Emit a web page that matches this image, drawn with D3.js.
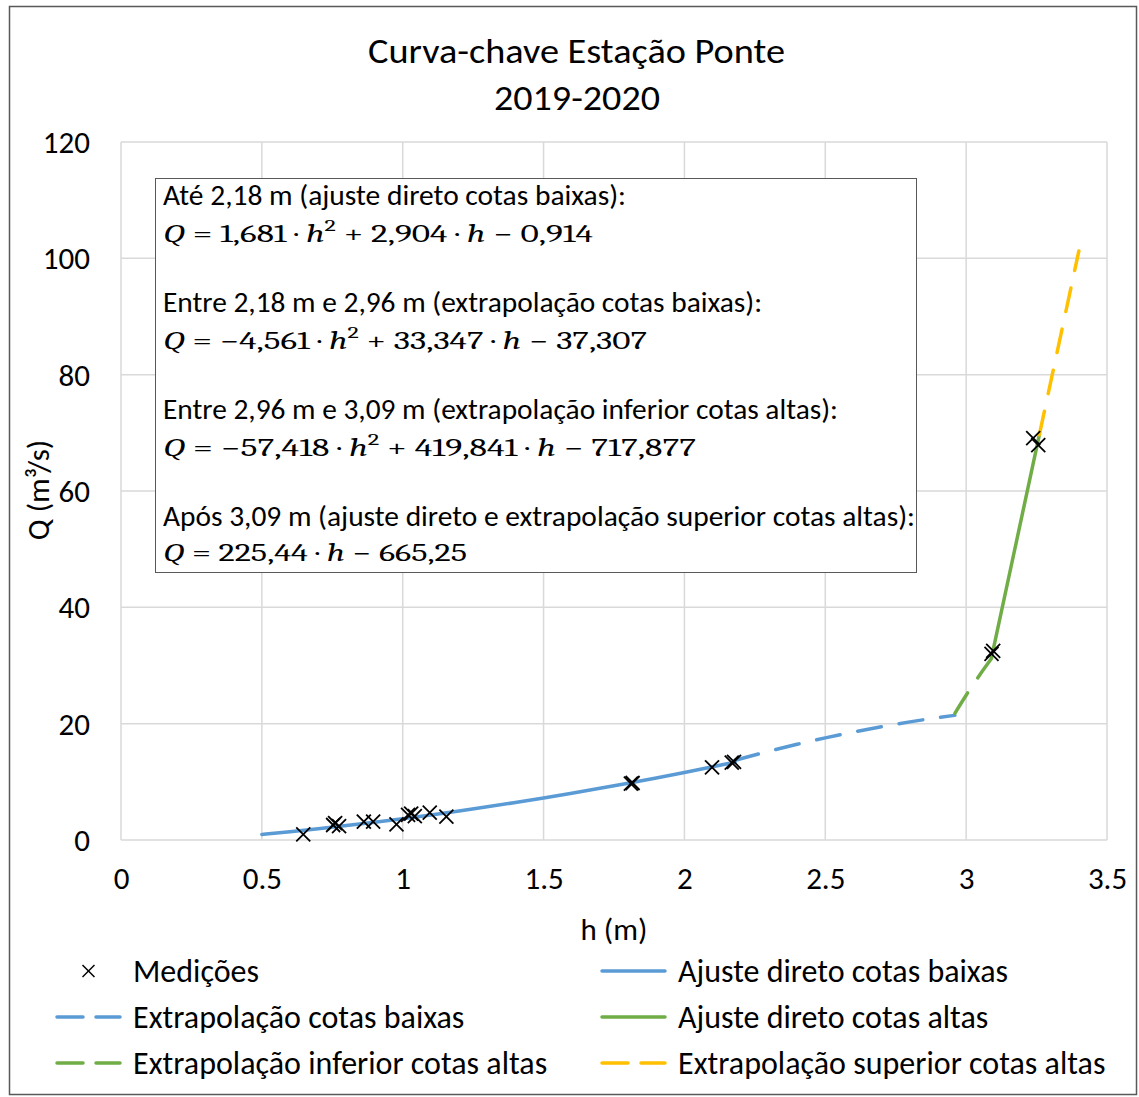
<!DOCTYPE html>
<html>
<head>
<meta charset="utf-8">
<script src="https://cdn.jsdelivr.net/npm/d3@7/dist/d3.min.js"></script>
<style>
  html, body { margin: 0; padding: 0; background: #fff; }
  svg { display: block; }
</style>
</head>
<body>
<svg id="chart" width="1139" height="1097"></svg>
<script>
// Gauging measurements: stage h (m) and discharge Q (m³/s)
const measH = [0.647, 0.753, 0.760, 0.774, 0.862, 0.895, 0.978, 1.019, 1.030, 1.043, 1.096, 1.155,
               1.810, 1.816, 2.098, 2.168, 2.176, 3.090, 3.096, 3.238, 3.256];
const measQ = [0.98, 2.58, 2.9, 2.40, 3.15, 3.15, 2.70, 4.30, 4.55, 4.10, 4.70, 4.00,
               9.70, 9.80, 12.50, 13.30, 13.45, 32.0, 32.5, 69.1, 67.9];

// Rating curve segments (tabulated from the fitted equations shown in the box)
const lowFitH = [0.5, 0.6, 0.7, 0.8, 0.9, 1.0, 1.1, 1.2, 1.3, 1.4, 1.5, 1.6, 1.7, 1.8, 1.9, 2.0, 2.1, 2.18];
const lowFitQ = [0.958, 1.434, 1.943, 2.485, 3.061, 3.671, 4.314, 4.991, 5.702, 6.446, 7.224, 8.036, 8.881, 9.760, 10.672, 11.618, 12.598, 13.405];

const lowExtH = [2.18, 2.3, 2.4, 2.5, 2.6, 2.7, 2.8, 2.9, 2.96];
const lowExtQ = [13.714, 15.263, 16.454, 17.554, 18.563, 19.480, 20.306, 21.041, 21.437];

const highInfH = [2.96, 3.0, 3.05, 3.09];
const highInfQ = [21.779, 24.884, 28.507, 31.199];

const highFitH = [3.09, 3.26];
const highFitQ = [31.36, 69.68];

const highSupH = [3.26, 3.40];
const highSupQ = [69.68, 101.25];

// Axis ticks
const xTicks = [0, 0.5, 1, 1.5, 2, 2.5, 3, 3.5];
const xTickLabels = ["0", "0.5", "1", "1.5", "2", "2.5", "3", "3.5"];
const yTicks = [0, 20, 40, 60, 80, 100, 120];
const yTickLabels = ["0", "20", "40", "60", "80", "100", "120"];

// Legend entries
const legendLabels = ["Medições", "Ajuste direto cotas baixas", "Extrapolação cotas baixas",
                      "Ajuste direto cotas altas", "Extrapolação inferior cotas altas",
                      "Extrapolação superior cotas altas"];

const FONT = "Carlito, Calibri, Lato, sans-serif";
const MATH = "'Cambria Math', Cambria, 'DejaVu Serif', serif";
const BLUE = "#5B9BD5", GREEN = "#70AD47", GOLD = "#FFC000", GRID = "#D9D9D9";
const DASH = "24,18";

const svg = d3.select("#chart");

// outer chart frame
svg.append("rect").attr("x", 9.5).attr("y", 6.5).attr("width", 1127).attr("height", 1088)
  .attr("fill", "#fff").attr("stroke", "#595959").attr("stroke-width", 1.5);

const x = d3.scaleLinear().domain([0, 3.5]).range([121, 1107]);
const y = d3.scaleLinear().domain([0, 120]).range([840, 142]);

// title
const title = svg.append("g").attr("font-family", FONT).attr("font-size", 34).attr("fill", "#000");
title.append("text").attr("x", 368).attr("y", 63).attr("textLength", 417)
  .attr("lengthAdjust", "spacingAndGlyphs").text("Curva-chave Estação Ponte");
title.append("text").attr("x", 494).attr("y", 110).attr("textLength", 166)
  .attr("lengthAdjust", "spacingAndGlyphs").text("2019-2020");

// gridlines
const grid = svg.append("g");
grid.selectAll("line.h").data(yTicks).join("line")
  .attr("x1", x(0)).attr("x2", x(3.5)).attr("y1", d => y(d)).attr("y2", d => y(d))
  .attr("stroke", GRID).attr("stroke-width", 1.5);
grid.selectAll("line.v").data(xTicks).join("line")
  .attr("y1", y(0)).attr("y2", y(120)).attr("x1", d => x(d)).attr("x2", d => x(d))
  .attr("stroke", GRID).attr("stroke-width", 1.5);

// axes (labels only)
const xAxis = svg.append("g").attr("transform", `translate(0,${y(0)})`)
  .call(d3.axisBottom(x).tickValues(xTicks).tickFormat((d, i) => xTickLabels[i]).tickSize(0).tickPadding(27));
const yAxis = svg.append("g").attr("transform", `translate(${x(0)},0)`)
  .call(d3.axisLeft(y).tickValues(yTicks).tickFormat((d, i) => yTickLabels[i]).tickSize(0).tickPadding(31));
[xAxis, yAxis].forEach(a => {
  a.select(".domain").remove();
  a.selectAll("text").attr("font-family", FONT).attr("font-size", 31).attr("fill", "#000");
});
yAxis.selectAll("text").attr("dy", "0.34em");
xAxis.selectAll("text").attr("dy", "0.72em");

// axis titles
svg.append("text").attr("x", 614).attr("y", 940).attr("text-anchor", "middle")
  .attr("font-family", FONT).attr("font-size", 31).text("h (m)");
svg.append("text").attr("transform", "translate(49,490) rotate(-90)").attr("text-anchor", "middle")
  .attr("font-family", FONT).attr("font-size", 31).text("Q (m³/s)");

// curves
const line = d3.line().x(d => x(d[0])).y(d => y(d[1])).curve(d3.curveMonotoneX);
const zip = (a, b) => a.map((v, i) => [v, b[i]]);
const segs = [
  { pts: zip(lowFitH, lowFitQ), color: BLUE, dash: null },
  { pts: zip(lowExtH, lowExtQ), color: BLUE, dash: DASH },
  { pts: zip(highInfH, highInfQ), color: GREEN, dash: DASH },
  { pts: zip(highFitH, highFitQ), color: GREEN, dash: null },
  { pts: zip(highSupH, highSupQ), color: GOLD, dash: DASH }
];
svg.append("g").selectAll("path").data(segs).join("path")
  .attr("d", d => line(d.pts)).attr("fill", "none")
  .attr("stroke", d => d.color).attr("stroke-width", 3.5).attr("stroke-linecap", "round")
  .attr("stroke-dasharray", d => d.dash);

// measurement markers
const cross = (g, s) => {
  g.append("line").attr("x1", -s).attr("y1", -s).attr("x2", s).attr("y2", s);
  g.append("line").attr("x1", -s).attr("y1", s).attr("x2", s).attr("y2", -s);
};
svg.append("g").selectAll("g").data(zip(measH, measQ)).join("g")
  .attr("transform", d => `translate(${x(d[0])},${y(d[1])})`)
  .attr("stroke", "#000").attr("stroke-width", 1.8)
  .each(function () { cross(d3.select(this), 7); });

// equations box
svg.append("rect").attr("x", 155.5).attr("y", 178.5).attr("width", 761).attr("height", 394)
  .attr("fill", "#fff").attr("stroke", "#595959").attr("stroke-width", 1);

const boxText = [
  { t: "Até 2,18 m (ajuste direto cotas baixas):", y: 205, w: 463 },
  { t: "Entre 2,18 m e 2,96 m (extrapolação cotas baixas):", y: 312, w: 599 },
  { t: "Entre 2,96 m e 3,09 m (extrapolação inferior cotas altas):", y: 419, w: 675 },
  { t: "Após 3,09 m (ajuste direto e extrapolação superior cotas altas):", y: 526, w: 752 }
];
svg.append("g").selectAll("text").data(boxText).join("text")
  .attr("x", 163).attr("y", d => d.y).attr("font-family", FONT).attr("font-size", 28)
  .attr("textLength", d => d.w).attr("lengthAdjust", "spacingAndGlyphs").text(d => d.t);

// equation rows: [text, style] pieces — 1 italic, 2 superscript
const eqs = [
  { y: 242, w: 430, parts: [["Q", 1], [" = 1,681 · ", 0], ["h", 1], ["2", 2], [" + 2,904 · ", 0], ["h", 1], [" − 0,914", 0]] },
  { y: 349, w: 484, parts: [["Q", 1], [" = −4,561 · ", 0], ["h", 1], ["2", 2], [" + 33,347 · ", 0], ["h", 1], [" − 37,307", 0]] },
  { y: 456, w: 533, parts: [["Q", 1], [" = −57,418 · ", 0], ["h", 1], ["2", 2], [" + 419,841 · ", 0], ["h", 1], [" − 717,877", 0]] },
  { y: 561, w: 304, parts: [["Q", 1], [" = 225,44 · ", 0], ["h", 1], [" − 665,25", 0]] }
];
eqs.forEach(eq => {
  const t = svg.append("text").attr("x", 163).attr("y", eq.y).attr("font-family", MATH)
    .attr("font-size", 25).attr("textLength", eq.w).attr("lengthAdjust", "spacingAndGlyphs")
    .style("white-space", "pre");
  eq.parts.forEach(p => {
    const s = t.append("tspan").attr("font-style", p[1] === 1 ? "italic" : "normal").text(p[0]);
    if (p[1] === 2) s.attr("font-size", 17).attr("dy", -11);
    else if (p[1] === 0 && t.selectAll("tspan").size() > 1 && t.selectAll("tspan").nodes().slice(-2, -1)[0].textContent === "2")
      s.attr("dy", 11);
  });
});

// legend
const legendPos = [
  { lx: 55, tx: 133, y: 971 }, { lx: 600, tx: 678, y: 971 },
  { lx: 55, tx: 133, y: 1017 }, { lx: 600, tx: 678, y: 1017 },
  { lx: 55, tx: 133, y: 1063 }, { lx: 600, tx: 678, y: 1063 }
];
const legendStyle = [
  { type: "x" }, { color: BLUE, dash: null }, { color: BLUE, dash: DASH },
  { color: GREEN, dash: null }, { color: GREEN, dash: DASH }, { color: GOLD, dash: DASH }
];
const lg = svg.append("g");
legendLabels.forEach((lab, i) => {
  const p = legendPos[i], s = legendStyle[i];
  if (s.type === "x") {
    const g = lg.append("g").attr("transform", `translate(${(p.lx + 122) / 2},${p.y})`)
      .attr("stroke", "#000").attr("stroke-width", 1.5);
    cross(g, 6);
  } else {
    lg.append("line").attr("x1", p.lx + 2).attr("x2", p.lx + 65).attr("y1", p.y).attr("y2", p.y)
      .attr("stroke", s.color).attr("stroke-width", 3.5).attr("stroke-linecap", "round")
      .attr("stroke-dasharray", s.dash ? "26,13" : null);
  }
  lg.append("text").attr("x", p.tx).attr("y", p.y + 11).attr("font-family", FONT)
    .attr("font-size", 32).text(lab);
});
</script>
</body>
</html>
